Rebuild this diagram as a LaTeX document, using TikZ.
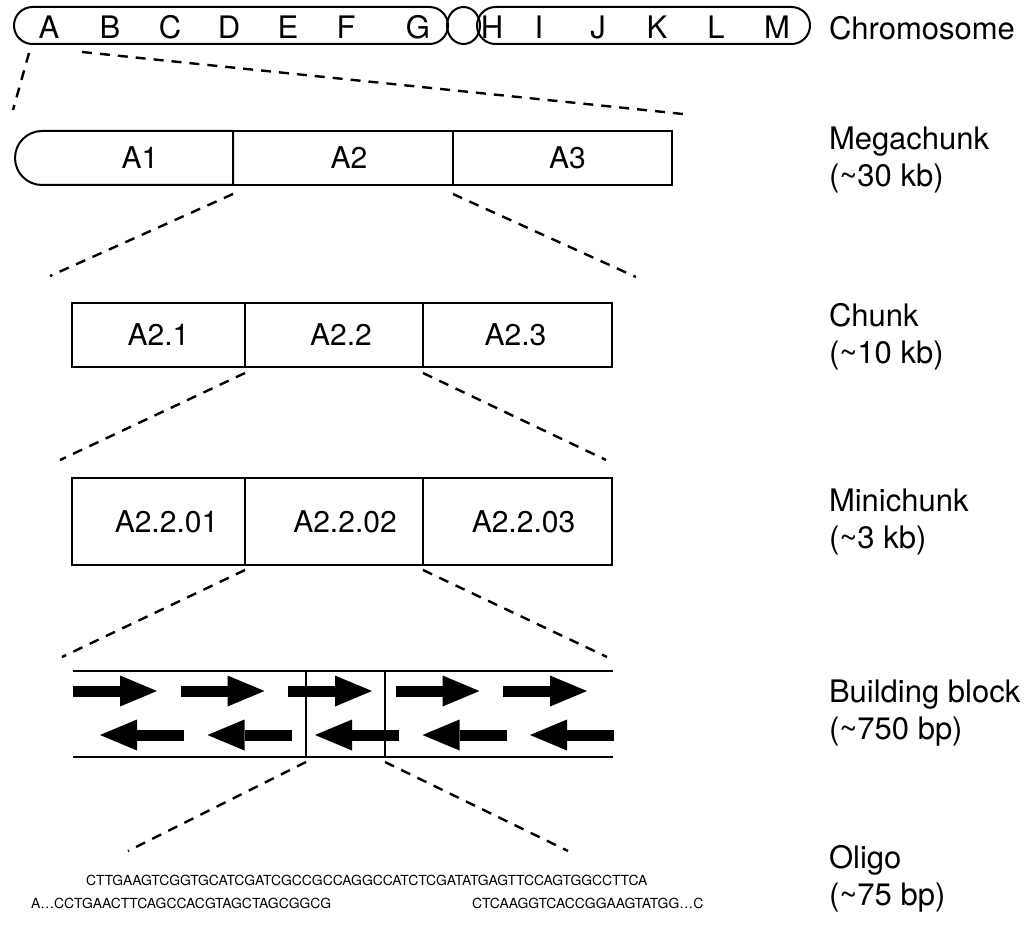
\documentclass[tikz,border=0pt]{standalone}
\usepackage{fontspec}
\setmainfont{TeX Gyre Heros}
\usepackage{tikz}
\usetikzlibrary{shapes.misc,shapes.geometric,arrows.meta,positioning}

\newcommand{\bigfont}{\fontsize{31}{37}\selectfont}
\newcommand{\cellfont}{\fontsize{30}{36}\selectfont}
\newcommand{\seqfont}{\fontsize{13.9}{16}\selectfont}

\begin{document}
\begin{tikzpicture}[
    x=1pt, y=-1pt,
    every node/.style={inner sep=0pt, outer sep=0pt},
    every label/.style={font=\cellfont},
    outline/.style={draw, line width=2pt},
    arm/.style={outline, rounded rectangle, minimum height=37pt},
    cell/.style={outline, rectangle, minimum width=#1},
    mega/.style={cell=#1, minimum height=54pt},
    chunk/.style={cell=#1, minimum height=64pt},
    mini/.style={cell=#1, minimum height=87pt},
    sizelabel/.style={anchor=west, align=left, font=\bigfont},
    seq/.style={anchor=base west, font=\seqfont},
    zoomline/.style={line width=2.4pt, dash pattern=on 10pt off 8pt},
    fwd/.style={line width=11pt, -{Triangle[length=37pt, width=31pt, line width=0pt]}}
]
    \useasboundingbox (0,0) rectangle (1030,928);

    % Chromosome
    \node[arm, minimum width=434pt] (arm1) at (231,25.5) {};
    \node[outline, ellipse, minimum width=33pt, minimum height=37pt] (cen) at (463.5,25.5) {};
    \node[arm, minimum width=333pt] (arm2) at (643.5,25.5) {};
    \foreach \l/\x in {A/49,B/110,C/170,D/229,E/288,F/346,G/418,H/492,I/539,J/598,K/657,L/716,M/777}
        \node[anchor=base, font=\bigfont] (chr\l) at (\x,39) {\l};

    % Level names
    \node[sizelabel] (chrlab) at (829,28) {Chromosome};
    \node[sizelabel] (megalab) at (829,160) {Megachunk\\(\textasciitilde30 kb)};
    \node[sizelabel] (chunklab) at (829,337) {Chunk\\(\textasciitilde10 kb)};
    \node[sizelabel] (minilab) at (829,522) {Minichunk\\(\textasciitilde3 kb)};
    \node[sizelabel] (bblab) at (829,713) {Building block\\(\textasciitilde750 bp)};
    \node[sizelabel] (oligolab) at (829,879) {Oligo\\(\textasciitilde75 bp)};

    % Megachunk
    \node[mega=218pt, rounded rectangle, rounded rectangle right arc=none,
          label={[xshift=16pt]center:A1}] (a1) at (124,158) {};
    \node[mega=220pt, right=0pt of a1, label={[xshift=6pt]center:A2}] (a2) {};
    \node[mega=219pt, right=0pt of a2, label={[xshift=5pt]center:A3}] (a3) {};

    % Chunk
    \node[chunk=173pt, label={center:A2.1}] (a21) at (158.5,335) {};
    \node[chunk=178pt, right=0pt of a21, label={[xshift=7pt]center:A2.2}] (a22) {};
    \node[chunk=189pt, right=0pt of a22, label={[xshift=-2pt]center:A2.3}] (a23) {};

    % Minichunk
    \node[mini=173pt, label={[xshift=8pt]center:A2.2.01}] (a2201) at (158.5,521.5) {};
    \node[mini=178pt, right=0pt of a2201, label={[xshift=11pt]center:A2.2.02}] (a2202) {};
    \node[mini=189pt, right=0pt of a2202, label={[xshift=6pt]center:A2.2.03}] (a2203) {};

    % Building block
    \node[minimum width=540pt, minimum height=86pt] (bb) at (343,714) {};
    \draw[line width=2pt] (bb.north west) -- (bb.north east) (bb.south west) -- (bb.south east);
    \draw[line width=2pt] ([xshift=233pt]bb.north west) -- ([xshift=233pt,yshift=-1pt]bb.south west);
    \draw[line width=2pt] ([xshift=312pt]bb.north west) -- ([xshift=312pt,yshift=-1pt]bb.south west);
    \foreach \i in {0,...,4} {
        \draw[fwd] (73+107.5*\i,691) -- ++(84,0);
        \draw[fwd] (184+107.5*\i,735) -- ++(-84,0);
    }

    % Oligo
    \node[seq] (oligotop) at (86,885) {CTTGAAGTCGGTGCATCGATCGCCGCCAGGCCATCTCGATATGAGTTCCAGTGGCCTTCA};
    \node[seq] (oligoleft) at (31,908) {A\ldots CCTGAACTTCAGCCACGTAGCTAGCGGCG};
    \node[seq] (oligoright) at (472,908) {CTCAAGGTCACCGGAAGTATGG\ldots C};

    % Zoom lines
    \coordinate (chrL) at (13,110);
    \coordinate (chrR) at (683,114);
    \coordinate (megaL) at (50,276);
    \coordinate (megaR) at (636,277);
    \coordinate (chunkL) at (60,460);
    \coordinate (chunkR) at (606,460);
    \coordinate (miniL) at (62,657);
    \coordinate (miniR) at (607,657);
    \coordinate (bbL) at (128,851);
    \coordinate (bbR) at (568,851);
    \draw[zoomline] ([xshift=-202pt,yshift=-9pt]arm1.south) -- (chrL);
    \draw[zoomline] ([xshift=-149pt,yshift=-8pt]arm1.south) -- (chrR);
    \draw[zoomline] ([yshift=-9pt]a2.south west) -- (megaL);
    \draw[zoomline] ([yshift=-9pt]a3.south west) -- (megaR);
    \draw[zoomline] ([yshift=-6pt]a22.south west) -- (chunkL);
    \draw[zoomline] ([yshift=-6pt]a23.south west) -- (chunkR);
    \draw[zoomline] ([yshift=-5pt]a2202.south west) -- (miniL);
    \draw[zoomline] ([yshift=-5pt]a2203.south west) -- (miniR);
    \draw[zoomline] ([xshift=233pt,yshift=-5pt]bb.south west) -- (bbL);
    \draw[zoomline] ([xshift=312pt,yshift=-5pt]bb.south west) -- (bbR);
\end{tikzpicture}
\end{document}
